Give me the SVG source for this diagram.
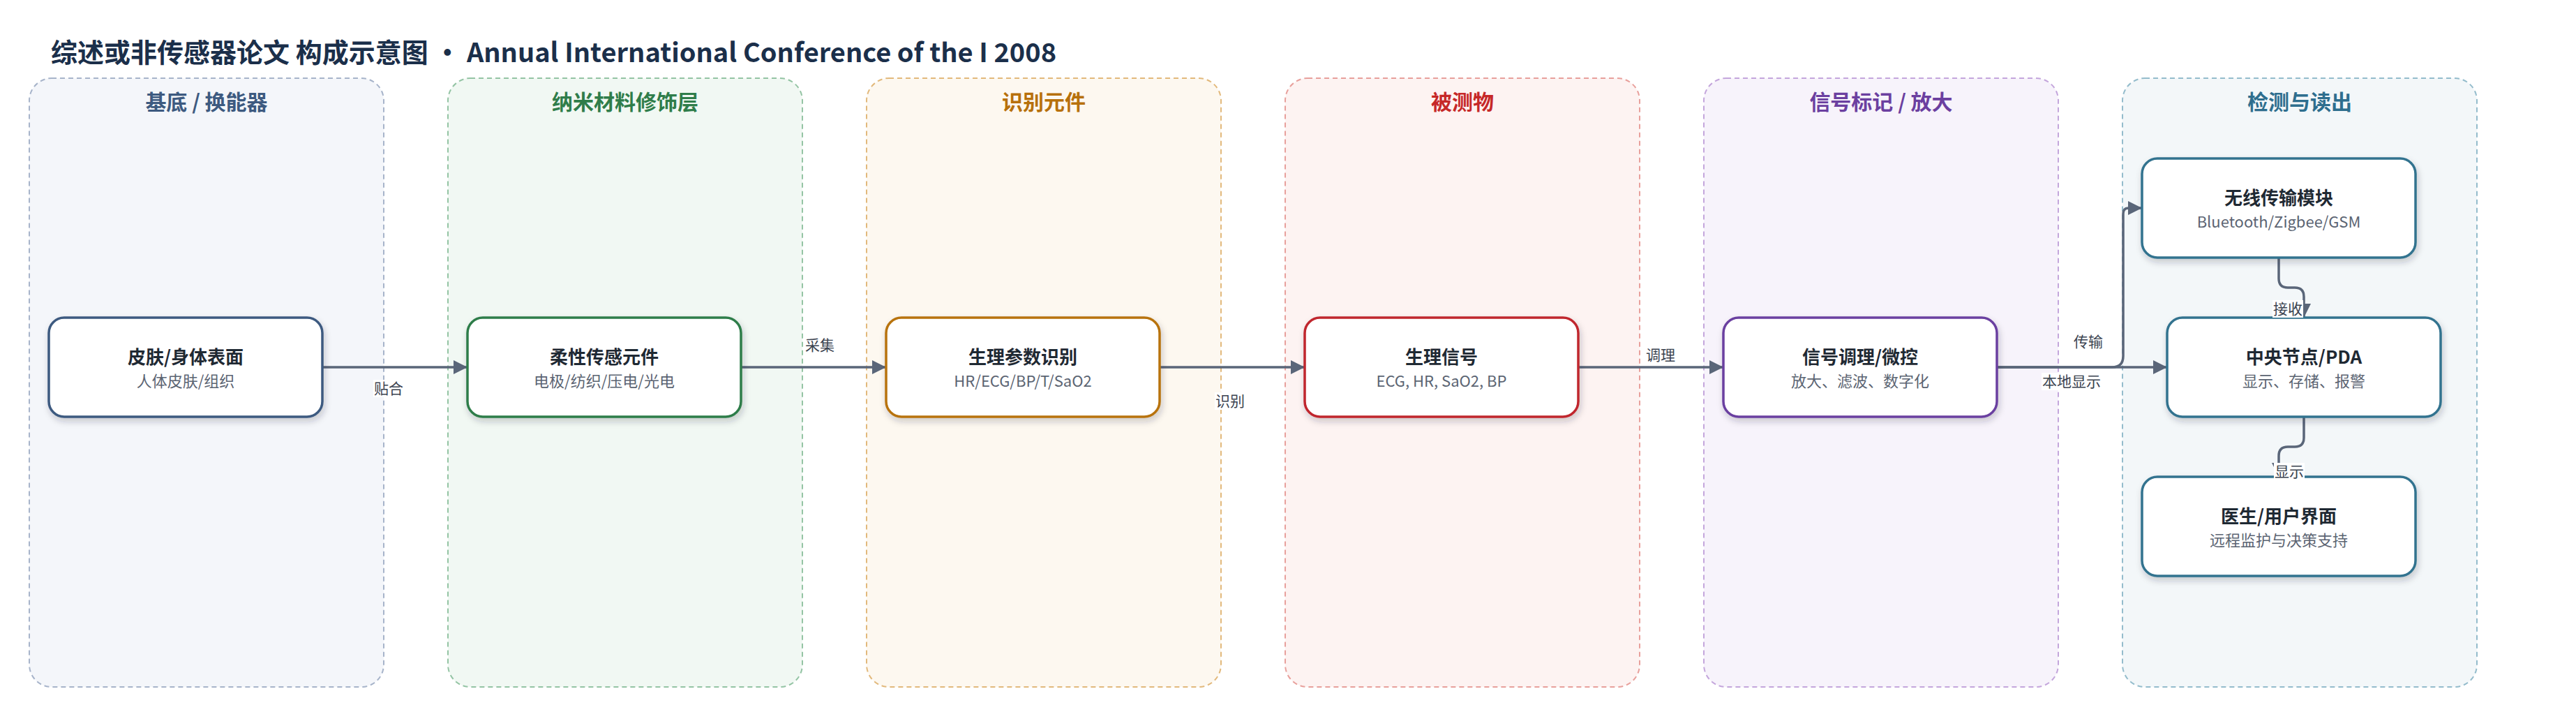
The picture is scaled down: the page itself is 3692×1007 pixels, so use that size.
<svg xmlns="http://www.w3.org/2000/svg" width="3692" height="1007" viewBox="0 0 3692 1007">
<style>
text{font-family:"Noto Sans CJK SC","Noto Sans",sans-serif}
.title{font-size:38px;font-weight:700;fill:#1b2f4a}
.lane{stroke-width:2;stroke-dasharray:7 5}
.lh{font-size:30px;font-weight:700;text-anchor:middle}
.node{fill:#fff;stroke-width:3.5;filter:url(#sh)}
.nt{font-size:26px;font-weight:700;fill:#1f2933;text-anchor:middle}
.ns{font-size:22px;fill:#5b6472;text-anchor:middle}
.edge{fill:none;stroke:#5a6679;stroke-width:3.5}
.el{font-size:21px;fill:#3b4350;text-anchor:middle}
.lb{fill:#fff}
</style>
<defs>
<filter id="sh" x="-10%" y="-20%" width="120%" height="150%">
<feDropShadow dx="2" dy="5" stdDeviation="5" flood-color="#1f2933" flood-opacity="0.22"/>
</filter>
<marker id="ah" markerUnits="userSpaceOnUse" markerWidth="20" markerHeight="20" refX="20" refY="10" orient="auto">
<path d="M0,0 L20,10 L0,20 Z" fill="#5a6679"/>
</marker>
</defs>
<rect width="3692" height="1007" fill="#fff"/>
<text class="title" x="73" y="89">综述或非传感器论文 构成示意图 • Annual International Conference of the I 2008</text>

<g id="lane1"><rect class="lane" x="42" y="112" width="508" height="872" rx="32" fill="#f4f6fa" stroke="#a7b4ca"/><text class="lh" x="296" y="157" fill="#3d5a80">基底 / 换能器</text></g>
<g id="lane2"><rect class="lane" x="642" y="112" width="508" height="872" rx="32" fill="#f1f8f3" stroke="#94c4a4"/><text class="lh" x="896" y="157" fill="#2f7d4a">纳米材料修饰层</text></g>
<g id="lane3"><rect class="lane" x="1242" y="112" width="508" height="872" rx="32" fill="#fdf8f0" stroke="#e2b97c"/><text class="lh" x="1496" y="157" fill="#b7700b">识别元件</text></g>
<g id="lane4"><rect class="lane" x="1842" y="112" width="508" height="872" rx="32" fill="#fdf3f2" stroke="#e8a09c"/><text class="lh" x="2096" y="157" fill="#c62828">被测物</text></g>
<g id="lane5"><rect class="lane" x="2442" y="112" width="508" height="872" rx="32" fill="#f7f3fb" stroke="#c4a6dc"/><text class="lh" x="2696" y="157" fill="#6b3fa0">信号标记 / 放大</text></g>
<g id="lane6"><rect class="lane" x="3042" y="112" width="508" height="872" rx="32" fill="#f3f7f9" stroke="#94bccc"/><text class="lh" x="3296" y="157" fill="#2e6e8e">检测与读出</text></g>

<g id="connectors">
<path class="edge" d="M462 526 H670" marker-end="url(#ah)"/>
<path class="edge" d="M1062 526 H1270" marker-end="url(#ah)"/>
<path class="edge" d="M1662 526 H1870" marker-end="url(#ah)"/>
<path class="edge" d="M2262 526 H2470" marker-end="url(#ah)"/>
<path class="edge" d="M2862 526 H3027 Q3043 526 3043 510 V306 Q3043 298 3051 298 H3070" marker-end="url(#ah)"/>
<path class="edge" d="M2862 526 H3106" marker-end="url(#ah)"/>
<path class="edge" d="M3266 369 V399 Q3266 412 3279 412 H3289 Q3302 412 3302 425 V455" marker-end="url(#ah)"/>
<path class="edge" d="M3302 597 V627 Q3302 640 3289 640 H3279 Q3266 640 3266 653 V683" marker-end="url(#ah)"/>
</g>

<g id="n1"><rect class="node" x="70" y="455" width="392" height="142" rx="22" stroke="#3d5a80"/><text class="nt" x="266" y="521">皮肤/身体表面</text><text class="ns" x="266" y="554">人体皮肤/组织</text></g>
<g id="n2"><rect class="node" x="670" y="455" width="392" height="142" rx="22" stroke="#2e7d4a"/><text class="nt" x="866" y="521">柔性传感元件</text><text class="ns" x="866" y="554">电极/纺织/压电/光电</text></g>
<g id="n3"><rect class="node" x="1270" y="455" width="392" height="142" rx="22" stroke="#b8730c"/><text class="nt" x="1466" y="521">生理参数识别</text><text class="ns" x="1466" y="554">HR/ECG/BP/T/SaO2</text></g>
<g id="n4"><rect class="node" x="1870" y="455" width="392" height="142" rx="22" stroke="#c0282d"/><text class="nt" x="2066" y="521">生理信号</text><text class="ns" x="2066" y="554">ECG, HR, SaO2, BP</text></g>
<g id="n5"><rect class="node" x="2470" y="455" width="392" height="142" rx="22" stroke="#6b3fa0"/><text class="nt" x="2666" y="521">信号调理/微控</text><text class="ns" x="2666" y="554">放大、滤波、数字化</text></g>
<g id="n6"><rect class="node" x="3106" y="455" width="392" height="142" rx="22" stroke="#33738f"/><text class="nt" x="3302" y="521">中央节点/PDA</text><text class="ns" x="3302" y="554">显示、存储、报警</text></g>
<g id="n7"><rect class="node" x="3070" y="227" width="392" height="142" rx="22" stroke="#33738f"/><text class="nt" x="3266" y="293">无线传输模块</text><text class="ns" x="3266" y="326">Bluetooth/Zigbee/GSM</text></g>
<g id="n8"><rect class="node" x="3070" y="683" width="392" height="142" rx="22" stroke="#33738f"/><text class="nt" x="3266" y="749">医生/用户界面</text><text class="ns" x="3266" y="782">远程监护与决策支持</text></g>

<g id="edge-labels">
<rect class="lb" x="535" y="544" width="44" height="25"/><text class="el" x="557" y="564">贴合</text>
<rect class="lb" x="1153" y="482" width="44" height="25"/><text class="el" x="1175" y="502">采集</text>
<rect class="lb" x="1741" y="562" width="44" height="25"/><text class="el" x="1763" y="582">识别</text>
<rect class="lb" x="2358" y="496" width="44" height="25"/><text class="el" x="2380" y="516">调理</text>
<rect class="lb" x="2971" y="477" width="44" height="25"/><text class="el" x="2993" y="497">传输</text>
<rect class="lb" x="2926" y="534" width="86" height="25"/><text class="el" x="2969" y="554">本地显示</text>
<rect class="lb" x="3257" y="430" width="44" height="25"/><text class="el" x="3279" y="450">接收</text>
<rect class="lb" x="3259" y="663" width="44" height="25"/><text class="el" x="3281" y="683">显示</text>
</g>
</svg>
